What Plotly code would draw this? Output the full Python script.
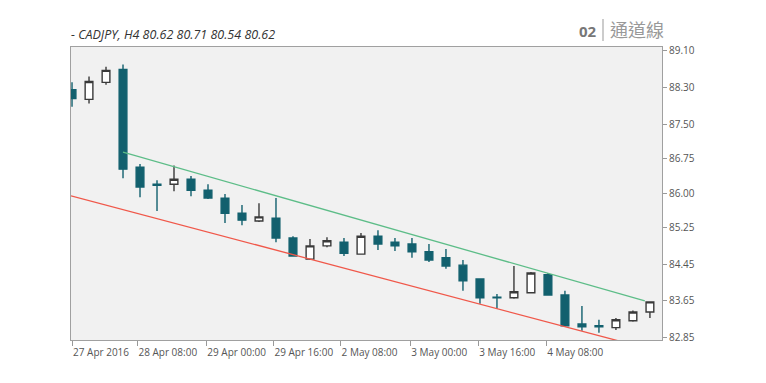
import plotly.graph_objects as go

# ---- data ----
x_index = list(range(35))
opens  = [88.25, 88.04, 88.41, 88.69, 86.56, 86.19, 86.19, 86.30, 86.06, 85.89,
          85.56, 85.39, 85.45, 85.02, 84.56, 84.85, 84.93, 84.67, 85.06, 84.93,
          84.89, 84.72, 84.59, 84.43, 84.13, 83.73, 83.72, 83.83, 84.22, 83.78,
          83.15, 83.11, 83.07, 83.22, 83.41]
highs  = [88.41, 88.54, 88.75, 88.80, 86.63, 86.28, 86.60, 86.37, 86.19, 85.98,
          85.74, 85.78, 85.89, 85.06, 85.00, 85.04, 85.02, 85.13, 85.19, 85.02,
          85.02, 84.89, 84.78, 84.54, 84.14, 83.80, 84.41, 84.28, 84.26, 83.87,
          83.54, 83.24, 83.28, 83.44, 83.63]
lows   = [87.88, 87.95, 88.36, 86.32, 85.91, 85.61, 86.04, 85.93, 85.87, 85.35,
          85.30, 85.37, 84.93, 84.62, 84.54, 84.82, 84.63, 84.66, 84.76, 84.74,
          84.59, 84.50, 84.35, 83.87, 83.59, 83.48, 83.70, 83.82, 83.77, 83.09,
          83.00, 82.96, 83.02, 83.20, 83.28]
closes = [88.06, 88.43, 88.67, 86.52, 86.13, 86.17, 86.30, 86.06, 85.89, 85.56,
          85.41, 85.48, 85.02, 84.63, 84.85, 84.96, 84.69, 85.06, 84.89, 84.85,
          84.72, 84.54, 84.41, 84.09, 83.72, 83.72, 83.85, 84.26, 83.78, 83.11,
          83.09, 83.09, 83.24, 83.41, 83.63]

upper_x = [3, 33.7]
upper_y = [86.89, 83.65]
lower_x = [-0.06, 34]
lower_y = [85.94, 82.60]

x_tick_pos = [0, 3.85, 7.9, 11.85, 15.8, 19.9, 23.9, 27.9]
x_tick_text = ["27 Apr 2016", "28 Apr 08:00", "29 Apr 00:00", "29 Apr 16:00",
               "2 May 08:00", "3 May 00:00", "3 May 16:00", "4 May 08:00"]
y_tick_vals = [82.85, 83.65, 84.45, 85.25, 86.00, 86.75, 87.50, 88.30, 89.10]
y_tick_text = ["82.85", "83.65", "84.45", "85.25", "86.00", "86.75", "87.50", "88.30", "89.10"]

TEAL = "#12606e"
DARK = "#3a3a3a"
FONT = "Open Sans"

# the page body has an 8px margin; size the figure so it fits the window
OFF = 8
FW, FH = 766 - 2 * OFF, 383 - 2 * OFF
PL, PR, PT, PB = 71 - OFF, 662 - OFF, 47 - OFF, 340 - OFF
PW, PH = PR - PL, PB - PT

fig = go.Figure()
fig.add_trace(go.Scatter(x=upper_x, y=upper_y, mode="lines",
                         line=dict(color="#5dbd88", width=1.3), hoverinfo="skip"))
fig.add_trace(go.Scatter(x=lower_x, y=lower_y, mode="lines",
                         line=dict(color="#f0584a", width=1.3), hoverinfo="skip"))
fig.add_trace(go.Candlestick(
    x=x_index, open=opens, high=highs, low=lows, close=closes,
    increasing=dict(fillcolor="#ffffff", line=dict(color=DARK, width=1.4)),
    decreasing=dict(fillcolor=TEAL, line=dict(color=TEAL, width=1.4)),
    whiskerwidth=0,
))

fig.update_layout(
    width=FW, height=FH,
    margin=dict(l=PL, r=FW - PR, t=PT, b=FH - PB, autoexpand=False),
    paper_bgcolor="#ffffff", plot_bgcolor="#f1f1f1",
    showlegend=False, boxgap=0.35,
    font=dict(family=FONT, size=10, color="#555555"),
    xaxis=dict(range=[-0.06, 34.71], rangeslider=dict(visible=False),
               tickmode="array", tickvals=x_tick_pos, ticktext=x_tick_text,
               ticks="outside", ticklen=5, tickcolor="#999999", tickangle=0,
               ticklabelposition="outside right", automargin=False,
               ticklabelstandoff=3,
               showline=True, linecolor="#a0a0a0", linewidth=1, mirror=True,
               showgrid=False, zeroline=False,
               tickfont=dict(family=FONT, size=10, color="#555555")),
    yaxis=dict(range=[82.80, 89.18], side="right", automargin=False,
               tickmode="array", tickvals=y_tick_vals, ticktext=y_tick_text,
               ticks="outside", ticklen=4, tickcolor="#999999",
               showline=True, linecolor="#a0a0a0", linewidth=1, mirror=True,
               showgrid=False, zeroline=False,
               tickfont=dict(family=FONT, size=10, color="#555555")),
    annotations=[
        dict(text="<i>- CADJPY, H4 80.62 80.71 80.54 80.62</i>", xref="paper", yref="paper",
             x=0, y=1, xanchor="left", yanchor="bottom", yshift=2, xshift=-2, showarrow=False,
             font=dict(family=FONT, size=12.5, color="#333333")),
        dict(text="<b>02</b>", xref="paper", yref="paper", x=(599 - 71) / PW, y=1,
             xanchor="right", yanchor="bottom", yshift=4, showarrow=False,
             font=dict(family=FONT, size=15, color="#777777")),
        dict(text="通道線", xref="paper", yref="paper", x=(608 - 71) / PW, y=1,
             xanchor="left", yanchor="bottom", yshift=3, showarrow=False,
             font=dict(family="Noto Sans CJK TC", size=18, color="#999999")),
    ],
    shapes=[dict(type="line", xref="paper", yref="paper",
                 x0=(603 - 71) / PW, x1=(603 - 71) / PW,
                 y0=1 + 6 / PH, y1=1 + 28 / PH,
                 line=dict(color="#999999", width=1))],
)

fig.write_html("out.html")
